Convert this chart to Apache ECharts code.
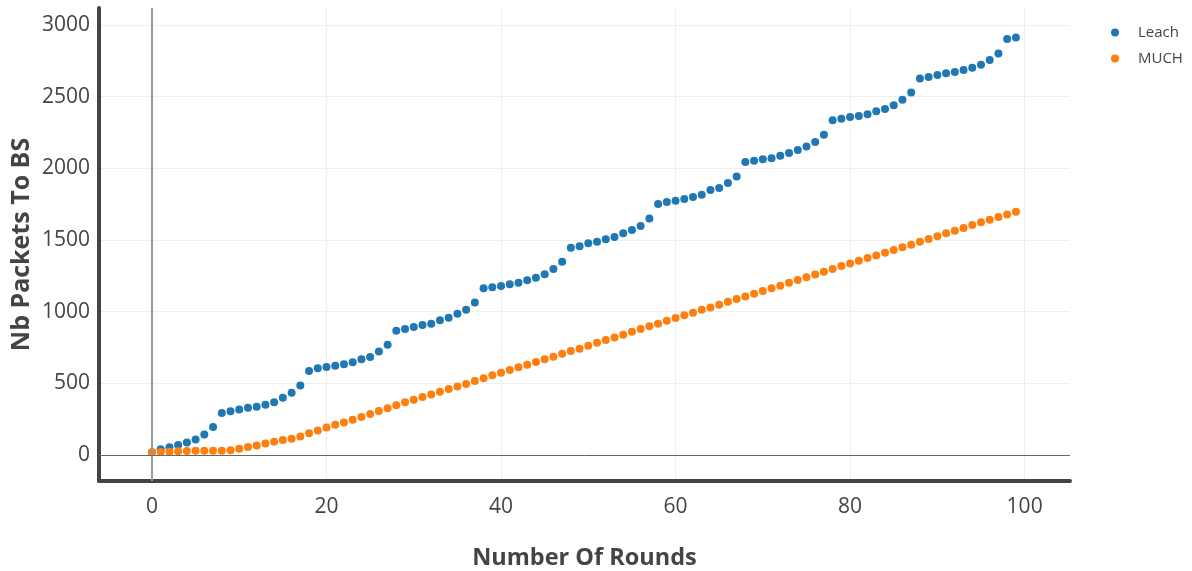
<!DOCTYPE html>
<html>
<head>
<meta charset="utf-8">
<script src="https://cdn.jsdelivr.net/npm/echarts@6/dist/echarts.min.js"></script>
<style>
html,body{margin:0;padding:0;background:#fff;}
#c{width:1192px;height:571px;}
</style>
</head>
<body>
<div id="c"></div>
<script>
var rounds = [0,1,2,3,4,5,6,7,8,9,10,11,12,13,14,15,16,17,18,19,20,21,22,23,24,25,26,27,28,29,30,31,32,33,34,35,36,37,38,39,40,41,42,43,44,45,46,47,48,49,50,51,52,53,54,55,56,57,58,59,60,61,62,63,64,65,66,67,68,69,70,71,72,73,74,75,76,77,78,79,80,81,82,83,84,85,86,87,88,89,90,91,92,93,94,95,96,97,98,99];
var leach = [19,40,54,70,88,109,144,195,294,306,318,330,337,351,368,399,434,486,586,605,614,623,633,647,668,684,723,770,867,879,893,907,916,940,958,986,1014,1065,1163,1170,1179,1191,1202,1219,1237,1261,1298,1349,1447,1457,1477,1488,1505,1521,1547,1570,1598,1651,1751,1765,1774,1786,1800,1816,1849,1863,1898,1944,2044,2053,2063,2070,2088,2107,2128,2152,2184,2235,2335,2347,2358,2365,2377,2398,2414,2440,2479,2530,2628,2637,2651,2663,2672,2686,2702,2723,2756,2802,2902,2914];
var much = [19,21,23,26,28,30,30,30,30,33,44,56,67,81,93,105,114,130,152,172,192,211,228,246,266,286,308,327,347,368,386,405,423,442,460,479,495,516,535,556,574,593,612,630,649,668,686,707,726,742,763,784,802,821,840,860,879,898,916,937,956,975,993,1013,1030,1049,1070,1088,1107,1126,1144,1163,1181,1202,1221,1240,1260,1279,1298,1319,1337,1356,1375,1393,1412,1430,1449,1468,1488,1507,1526,1547,1565,1584,1605,1624,1642,1661,1679,1698];
var seriesNames = ['Leach', 'MUCH'];
var xTitle = 'Number Of Rounds';
var yTitle = 'Nb Packets To BS';

function pairs(ys){ return rounds.map(function(x,i){ return [x, ys[i]]; }); }
function plain(v){ return String(Math.round(v)); }

var chart = echarts.init(document.getElementById('c'), null, {renderer:'canvas'});
var font = '"Open Sans", "Noto Sans", sans-serif';
chart.setOption({
  animation: false,
  backgroundColor: '#fff',
  textStyle: {fontFamily: font},
  grid: {left: 99, right: 122, top: 8, bottom: 90, containLabel: false, outerBoundsMode: 'none'},
  legend: {
    orient: 'vertical', left: 1106, top: 20,
    data: seriesNames, icon: 'circle', itemWidth: 8, itemHeight: 8, itemGap: 11,
    textStyle: {color: '#444', fontSize: 15, fontFamily: font, padding: [0,0,0,14]}
  },
  xAxis: {
    type: 'value', min: -6.07, max: 105.2, splitNumber: 5,
    name: xTitle, nameLocation: 'middle', nameGap: 65, nameMoveOverlap: false,
    nameTextStyle: {color: '#444', fontSize: 23.5, fontWeight: 'bold', fontFamily: font},
    axisLine: {show: true, onZero: false, lineStyle: {color: '#444', width: 4}},
    axisTick: {show: false},
    axisLabel: {color: '#444', fontSize: 21, margin: 16, showMinLabel: false, showMaxLabel: false, fontFamily: font, formatter: plain},
    splitLine: {show: true, showMinLine: false, showMaxLine: false, lineStyle: {color: '#eee', width: 1}}
  },
  yAxis: {
    type: 'value', min: -181, max: 3119, splitNumber: 6,
    name: yTitle, nameLocation: 'middle', nameGap: 65, nameMoveOverlap: false,
    nameTextStyle: {color: '#444', fontSize: 25, fontWeight: 'bold', fontFamily: font},
    axisLine: {show: true, onZero: false, lineStyle: {color: '#444', width: 4}},
    axisTick: {show: false},
    axisLabel: {color: '#444', fontSize: 21, margin: 9, showMinLabel: false, showMaxLabel: false, fontFamily: font, formatter: plain},
    splitLine: {show: true, showMinLine: false, showMaxLine: false, lineStyle: {color: '#eee', width: 1}}
  },
  series: [
    {
      name: 'zero', type: 'scatter', data: [], z: 1, silent: true,
      markLine: {
        silent: true, symbol: ['none','none'], label: {show: false}, animation: false,
        data: [
          {xAxis: 0, lineStyle: {color: '#999', width: 2, type: 'solid'}},
          {yAxis: 0, lineStyle: {color: '#666', width: 1, type: 'solid'}}
        ]
      }
    },
    {name: seriesNames[0], type: 'scatter', data: pairs(leach), symbolSize: 8, z: 2,
     itemStyle: {color: '#1f77b4', opacity: 1}},
    {name: seriesNames[1], type: 'scatter', data: pairs(much), symbolSize: 8, z: 3,
     itemStyle: {color: '#ff7f0e', opacity: 1}}
  ]
});
</script>
</body>
</html>
